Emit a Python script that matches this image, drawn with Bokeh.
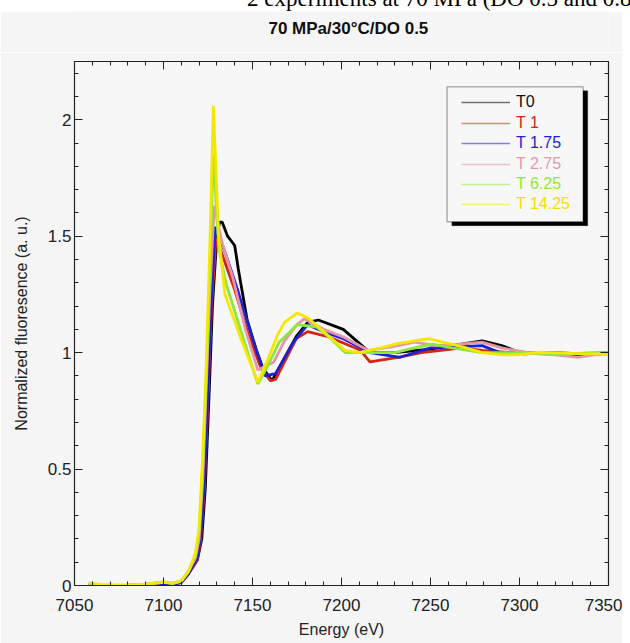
from bokeh.plotting import figure
from bokeh.models import (Range1d, LinearAxis, FixedTicker, CustomJSTickFormatter,
                          BoxAnnotation, Legend, LegendItem, Div, Label)
from bokeh.layouts import column
from bokeh.embed import file_html
from bokeh.resources import INLINE

# ---------------- data ----------------
title_text = "70 MPa/30°C/DO 0.5"
labels = ["T0", "T 1", "T 1.75", "T 2.75", "T 6.25", "T 14.25"]
colors = ["#000000", "#d42414", "#1c22d4", "#e496a8", "#8ee83c", "#f4e800"]
text_colors = ["#111111", "#d42414", "#1c22d4", "#e09aaa", "#8ee83c", "#f0e000"]

e_t0 = [7058, 7065, 7072, 7080, 7090, 7100, 7105, 7110, 7114, 7119, 7121.5, 7123.5, 7125.5,
        7127.5, 7130, 7131.5, 7133, 7136, 7140, 7142, 7147, 7152, 7156, 7161, 7174.6, 7181,
        7187, 7201, 7216, 7230, 7250, 7270, 7279, 7290, 7302, 7320, 7335, 7350]
y_t0 = [0.005, 0.0, -0.003, 0.0, 0.004, 0.012, 0.006, 0.015, 0.05, 0.11, 0.2, 0.42, 0.8,
        1.2, 1.5, 1.56, 1.56, 1.5, 1.46, 1.36, 1.14, 1.015, 0.93, 0.88, 1.07, 1.13,
        1.14, 1.10, 1.0, 1.0, 1.015, 1.04, 1.05, 1.03, 0.995, 1.0, 0.995, 1.0]

e_t1 = [7058, 7065, 7072, 7080, 7090, 7100, 7105, 7110, 7114, 7119, 7121, 7123, 7125, 7127,
        7129.5, 7133, 7140, 7148, 7155, 7160, 7163, 7174.6, 7181, 7193, 7210.6, 7216,
        7231.7, 7245, 7268, 7279, 7295, 7320, 7350]
y_t1 = [0.004, -0.002, -0.004, 0.0, 0.003, 0.01, 0.005, 0.014, 0.05, 0.11, 0.2, 0.42, 0.8, 1.2,
        1.49, 1.42, 1.27, 1.07, 0.93, 0.88, 0.885, 1.06, 1.09, 1.067, 1.01, 0.96,
        0.98, 1.0, 1.02, 1.01, 1.0, 0.995, 0.995]

e_t175 = [7058, 7065, 7072, 7080, 7090, 7100, 7105, 7110, 7114, 7119, 7121, 7123, 7125, 7127,
          7129, 7134.6, 7142, 7150, 7157, 7163, 7173, 7181, 7190, 7201, 7216, 7233, 7250,
          7265, 7279, 7289, 7300, 7320, 7335, 7350]
y_t175 = [0.0, -0.006, -0.008, -0.005, 0.0, 0.008, 0.004, 0.012, 0.05, 0.12, 0.22, 0.45, 0.85,
          1.25, 1.54, 1.43, 1.26, 1.06, 0.90, 0.91, 1.045, 1.12, 1.09, 1.06, 1.0, 0.98, 1.02,
          1.025, 1.03, 1.0, 1.0, 0.995, 0.99, 1.0]

e_t275 = [7058, 7065, 7072, 7080, 7090, 7100, 7105, 7110, 7114, 7118, 7120, 7122, 7124, 7126,
          7128.5, 7132.8, 7139, 7146, 7153, 7162, 7168, 7175, 7179, 7190, 7201, 7215, 7228,
          7241, 7253, 7265, 7279, 7290, 7305, 7320, 7333, 7350]
y_t275 = [0.006, 0.002, 0.0, 0.002, 0.005, 0.014, 0.008, 0.018, 0.06, 0.12, 0.2, 0.45, 0.85,
          1.25, 1.63, 1.475, 1.32, 1.1, 0.925, 0.96, 1.05, 1.12, 1.145, 1.1, 1.067, 1.01,
          1.025, 1.045, 1.03, 1.035, 1.045, 1.02, 1.0, 0.99, 0.98, 1.0]

e_t625 = [7058, 7065, 7072, 7080, 7090, 7100, 7105, 7110, 7114, 7118, 7120, 7122, 7124, 7126,
          7128, 7131, 7135, 7144, 7153, 7159, 7165, 7175, 7186, 7194, 7202, 7215, 7230,
          7241, 7251, 7262, 7279, 7300, 7320, 7340, 7350]
y_t625 = [0.008, 0.003, 0.001, 0.003, 0.006, 0.016, 0.01, 0.02, 0.06, 0.13, 0.23, 0.5, 0.9,
          1.35, 1.85, 1.45, 1.3, 1.08, 0.865, 0.95, 1.045, 1.12, 1.11, 1.06, 1.0, 1.0, 1.0,
          1.02, 1.036, 1.02, 1.0, 1.0, 0.99, 1.0, 1.0]

e_t1425 = [7058, 7065, 7072, 7080, 7090, 7100, 7105, 7110, 7114, 7118, 7120, 7122, 7124, 7126,
           7128, 7131, 7134.5, 7144, 7153, 7158, 7164, 7168, 7175, 7181, 7190, 7202, 7210,
           7222, 7232, 7241, 7249, 7260, 7270, 7279, 7290, 7299, 7310, 7320, 7336, 7350]
y_t1425 = [0.012, 0.004, 0.002, 0.003, 0.006, 0.014, 0.009, 0.02, 0.06, 0.14, 0.25, 0.55, 0.95,
           1.45, 2.06, 1.5, 1.25, 1.05, 0.873, 0.96, 1.075, 1.13, 1.17, 1.15, 1.09, 1.01, 1.0,
           1.02, 1.04, 1.05, 1.06, 1.04, 1.02, 1.0, 0.99, 0.99, 1.0, 1.0, 0.995, 0.995]

energies = [e_t0, e_t1, e_t175, e_t275, e_t625, e_t1425]
values = [y_t0, y_t1, y_t175, y_t275, y_t625, y_t1425]

x_major = [7050, 7100, 7150, 7200, 7250, 7300, 7350]
y_major = [0, 0.5, 1, 1.5, 2]

FONT = "Liberation Sans"
BG = "#f5f5f5"

# ---------------- title strip (its own small svg figure) ----------------
tf = figure(width=622, height=41, x_range=Range1d(0, 622), y_range=Range1d(0, 41),
            x_axis_type=None, y_axis_type=None, min_border=0,
            output_backend="svg", toolbar_location=None,
            background_fill_color=BG, border_fill_color=BG)
tf.outline_line_color = None
tf.grid.visible = False
tf.add_layout(Label(x=319, y=24, text=title_text, text_align="center",
                    text_baseline="middle", text_font=FONT, text_font_size="17px",
                    text_font_style="bold", text_color="#111111"))

# ---------------- main figure ----------------
p = figure(width=622, height=593, x_range=Range1d(7050, 7350), y_range=Range1d(0, 2.25),
           output_backend="svg", toolbar_location=None,
           min_border_left=74, min_border_right=14, min_border_top=9, min_border_bottom=60,
           background_fill_color="#f7f7f7", border_fill_color=BG)
p.outline_line_color = "#222222"
p.outline_line_width = 1.2
p.grid.visible = False

xt = FixedTicker(ticks=x_major, minor_ticks=[7050 + 10 * i for i in range(31)])
yt = FixedTicker(ticks=y_major, minor_ticks=[round(0.1 * i, 1) for i in range(23)])


def style_axis(ax, show_labels=True):
    ax.major_tick_in = 8
    ax.major_tick_out = 0
    ax.minor_tick_in = 4
    ax.minor_tick_out = 0
    ax.axis_line_color = "#222222"
    ax.major_tick_line_color = "#222222"
    ax.minor_tick_line_color = "#222222"
    ax.major_label_text_font = FONT
    ax.major_label_text_font_size = "17px" if show_labels else "0px"
    ax.major_label_text_color = "#222222"
    ax.axis_label_text_font = FONT
    ax.axis_label_text_font_size = "16px"
    ax.axis_label_text_font_style = "normal"
    ax.axis_label_text_color = "#222222"


xa = p.xaxis[0]
xa.ticker = xt
style_axis(xa)
xa.axis_label = "Energy (eV)"
xa.major_label_standoff = 13
xa.axis_label_standoff = 7

ya = p.yaxis[0]
ya.ticker = yt
ya.formatter = CustomJSTickFormatter(code="return String(tick)")
style_axis(ya)
ya.axis_label = "Normalized fluoresence (a. u.)"
ya.major_label_standoff = 3
ya.axis_label_standoff = 15

empty = CustomJSTickFormatter(code="return ''")
top = LinearAxis(ticker=xt, formatter=empty)
style_axis(top, False)
top.major_label_standoff = 0
top.axis_label_standoff = 0
right = LinearAxis(ticker=yt, formatter=empty)
style_axis(right, False)
right.major_label_standoff = 0
right.axis_label_standoff = 0
p.add_layout(top, "above")
p.add_layout(right, "right")

# ---------------- lines ----------------
for e, v, c in zip(energies, values, colors):
    p.line(e, v, line_color=c, line_width=2.8)

# ---------------- legend ----------------
shadow = BoxAnnotation(left=7262.0, right=7338.3, top=2.124, bottom=1.545,
                       fill_color="black", fill_alpha=1, line_color="black", line_width=1)
box = BoxAnnotation(left=7259.3, right=7335.7, top=2.142, bottom=1.562,
                    fill_color="#f7f7f7", fill_alpha=1, line_color="black", line_width=1.5)
p.add_layout(shadow)
p.add_layout(box)

row_bottoms = [473, 452, 432, 411, 391, 371]
for lab, c, tc, yb in zip(labels, colors, text_colors, row_bottoms):
    dummy = p.line(x=[7050], y=[float("nan")], line_color=c, line_alpha=0.55, line_width=1.3)
    lg = Legend(items=[LegendItem(label=lab, renderers=[dummy])], location=(387, yb),
                glyph_width=49, glyph_height=20, label_height=20, label_standoff=6,
                padding=0, spacing=0, margin=0,
                border_line_color=None, background_fill_alpha=0,
                label_text_font=FONT, label_text_font_size="16px", label_text_color=tc)
    p.add_layout(lg)

# ---------------- cut-off heading above the chart ----------------
head = Div(text='<div style="position:relative; top:-22px; left:242px; white-space:nowrap; '
                'font-family:\'Liberation Serif\'; font-size:23px; color:#000;">'
                '2 experiments at 70 MPa (DO 0.5 and 0.8 MPa)</div>',
           width=622, height=1, styles={"overflow": "visible"})

layout = column(head, tf, p, spacing=0)
open("out.html", "w").write(file_html(layout, INLINE))
